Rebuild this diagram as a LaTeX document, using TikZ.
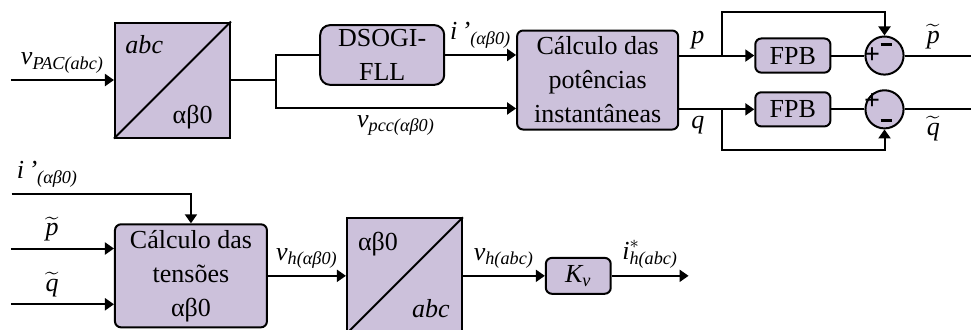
\documentclass[tikz,border=0pt]{standalone}
\usepackage{amsmath}
\usepackage{fontspec}
\setmainfont{Liberation Serif}
\usetikzlibrary{arrows.meta,positioning,calc}

\definecolor{lilac}{RGB}{204,193,219}
% italic symbol with an italic subscript
\newcommand{\sig}[2]{$\textit{#1}_{\textit{#2}}$}
% heavy signs for the summing junctions
\newcommand{\splus}{\textbf{+}}
\newcommand{\sminus}{\rule{2mm}{0.55mm}}

\begin{document}
\begin{tikzpicture}[
  node distance=10mm,
  blk/.style={draw, line width=1pt, fill=lilac, rounded corners=3pt, align=center,
              font=\fontsize{13}{17}\selectfont, inner sep=1pt},
  conv/.style={draw, line width=1pt, fill=lilac, minimum size=20.2mm, inner sep=0pt},
  sumc/.style={draw, circle, line width=1pt, fill=lilac, minimum size=6.7mm, inner sep=0pt},
  sgn/.style={font=\fontsize{14}{14}\selectfont, inner sep=0pt},
  lbl/.style={font=\fontsize{13}{15}\selectfont, inner sep=3pt},
  arr/.style={-{Triangle[length=4.5pt,width=6pt]}, line width=1pt},
  ln/.style={line width=1pt},
]
\useasboundingbox (-30.3mm,-43.75mm) rectangle (140.3mm,14.06mm);

% upper chain: abc -> alpha beta 0, DSOGI, powers, filters
\node[conv] (abc1) {};
\draw[ln] (abc1.south west) -- (abc1.north east);
\node[lbl, anchor=base west, font=\fontsize{13}{15}\selectfont\itshape]
  (abc1a) at ([xshift=0.9mm,yshift=-5.6mm]abc1.north west) {abc};
\node[lbl, anchor=base east]
  (abc1b) at ([xshift=-2.1mm,yshift=2.6mm]abc1.south east) {αβ0};

\node[blk, rounded corners=5pt, minimum width=21.8mm, minimum height=10.5mm,
      right=15.5mm of abc1, yshift=4.4mm] (dsogi) {DSOGI-\\FLL};
\node[blk, minimum width=28.3mm, minimum height=17.4mm, right=50.1mm of abc1] (calcp)
  {Cálculo das\\potências\\instantâneas};
\node[blk, minimum width=13.2mm, minimum height=6mm, right=13.2mm of calcp, yshift=4.3mm] (fpbp) {FPB};
\node[blk, minimum width=13.2mm, minimum height=6mm, below=3.1mm of fpbp] (fpbq) {FPB};
\node[sumc, right=5.8mm of fpbp] (sump) {};
\node[sumc, right=5.8mm of fpbq] (sumq) {};
\node[sgn] (sump1) at ([xshift=-2.2mm]sump.center) {\splus};
\node[sgn] (sump2) at ([xshift=0.3mm,yshift=2mm]sump.center) {\sminus};
\node[sgn] (sumq1) at ([xshift=-2.2mm,yshift=1.3mm]sumq.center) {\splus};
\node[sgn] (sumq2) at ([xshift=0.3mm,yshift=-1.9mm]sumq.center) {\sminus};

\coordinate[left=18.1mm of abc1.west] (vin);
\coordinate[right=7.9mm of abc1.east] (split);
\coordinate (bp) at ($(calcp.east |- fpbp.west)+(7.6mm,0)$);
\coordinate (bq) at ($(calcp.east |- fpbq.west)+(7.6mm,0)$);
\coordinate[right=14.4mm of sump.east] (pout);
\coordinate[right=14.4mm of sumq.east] (qout);

\draw[arr] (vin) -- node[lbl, above] {\sig{v}{PAC(abc)}} (abc1.west);
\draw[ln] (abc1.east) -- (split);
\draw[ln] (split) |- (dsogi.west);
\draw[arr] (split) |- node[lbl, below, pos=0.75] {\sig{v}{pcc(αβ0)}} ([yshift=-5mm]calcp.west);
\draw[arr] (dsogi.east) -- node[lbl, above] {$\textit{i\,’}_{\textit{(αβ0)}}$} (dsogi.east -| calcp.west);
\draw[arr] (fpbp.west -| calcp.east) -- node[lbl, above, pos=0.25] {\textit{p}} (fpbp.west);
\draw[arr] (fpbq.west -| calcp.east) -- node[lbl, below, pos=0.25] {\textit{q}} (fpbq.west);
\draw[arr] (bp) -- ++(0,7.6mm) -| (sump.north);
\draw[arr] (bq) -- ++(0,-7.2mm) -| (sumq.south);
\draw[ln] (fpbp.east) -- (sump.west);
\draw[ln] (fpbq.east) -- (sumq.west);
\draw[arr] (sump.east) -- node[lbl, above, pos=0.35] {$\widetilde{\textit{p}}$} (pout);
\draw[arr] (sumq.east) -- node[lbl, below, pos=0.35] {$\widetilde{\textit{q}}$} (qout);

% lower chain: voltages, alpha beta 0 -> abc, gain
\node[blk, minimum width=26.7mm, minimum height=18.1mm,
      below=14.9mm of abc1.south west, anchor=north west] (calct)
  {Cálculo das\\tensões\\αβ0};
\node[conv, right=13.7mm of calct] (abc2) {};
\draw[ln] (abc2.south west) -- (abc2.north east);
\node[lbl, anchor=base west]
  (abc2a) at ([xshift=1mm,yshift=-5.8mm]abc2.north west) {αβ0};
\node[lbl, anchor=base east, font=\fontsize{13}{15}\selectfont\itshape]
  (abc2b) at ([xshift=-1.2mm,yshift=3mm]abc2.south east) {abc};
\node[blk, minimum width=11.4mm, minimum height=6.3mm, right=14.4mm of abc2] (kv) {\sig{K}{v}};

\coordinate (iin) at ($(calct.north)+(-31.5mm,5.1mm)$);
\coordinate (pin) at ($(calct.west)+(-18.1mm,4.8mm)$);
\coordinate (qin) at ($(calct.west)+(-18.1mm,-5mm)$);
\coordinate[right=13.5mm of kv.east] (iout);

\draw[arr] (iin) -| node[lbl, above, pos=0.1] {$\textit{i\,’}_{\textit{(αβ0)}}$} (calct.north);
\draw[arr] (pin) -- node[lbl, above, pos=0.4] {$\widetilde{\textit{p}}$} (pin -| calct.west);
\draw[arr] (qin) -- node[lbl, above, pos=0.4] {$\widetilde{\textit{q}}$} (qin -| calct.west);
\draw[arr] (calct.east) -- node[lbl, above] {\sig{v}{h(αβ0)}} (abc2.west);
\draw[arr] (abc2.east) -- node[lbl, above] {\sig{v}{h(abc)}} (kv.west);
\draw[arr] (kv.east) -- node[lbl, above] {$\textit{i}^{*}_{\textit{h(abc)}}$} (iout);
\end{tikzpicture}
\end{document}
